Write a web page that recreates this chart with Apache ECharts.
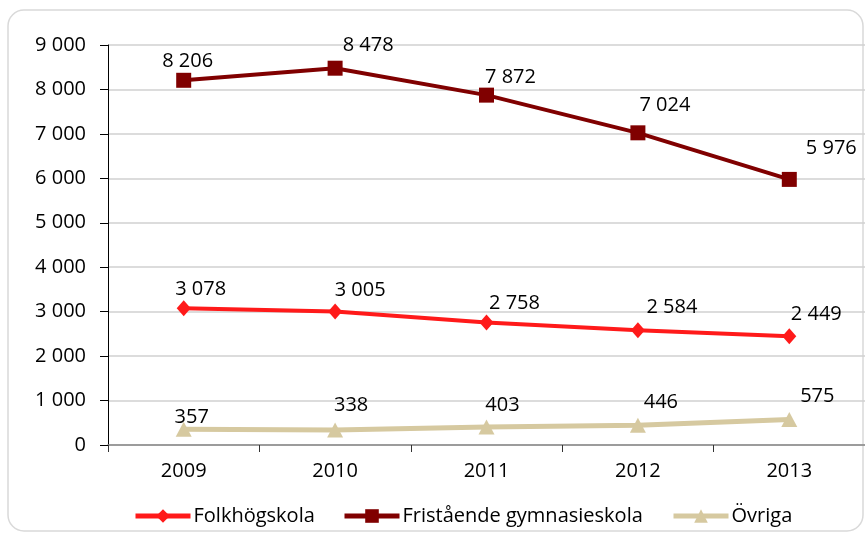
<!DOCTYPE html>
<html>
<head>
<meta charset="utf-8">
<script src="https://cdn.jsdelivr.net/npm/echarts@6/dist/echarts.min.js"></script>
<style>
html,body{margin:0;padding:0;background:#fff;}
#c{width:865px;height:533px;}
</style>
</head>
<body>
<div id="c"></div>
<script>
const categories = ['2009', '2010', '2011', '2012', '2013'];
const folkhogskola = [3078, 3005, 2758, 2584, 2449];
const fristaende = [8206, 8478, 7872, 7024, 5976];
const ovriga = [357, 338, 403, 446, 575];
const seriesNames = ['Folkhögskola', 'Fristående gymnasieskola', 'Övriga'];

// label offsets (pixels) relative to each marker
const folkOffsets = [[17,-19],[25,-21],[28,-19],[34,-23],[27,-22]];
const fristOffsets = [[4,-19],[33,-23],[24,-18],[27,-28],[42,-31]];
const ovrOffsets = [[8,-12],[16,-25],[16,-22],[23,-23],[28,-23]];

const FONT = '"Open Sans", "Noto Sans", sans-serif';
const fmt = v => String(v).replace(/\B(?=(\d{3})+(?!\d))/g, ' ');

function build(values, offsets) {
  return values.map((v, i) => ({
    value: v,
    label: { offset: offsets[i] }
  }));
}

const chart = echarts.init(document.getElementById('c'), null, {renderer: 'canvas'});
const labelBase = {
  show: true,
  position: 'inside',
  color: '#000',
  fontSize: 20,
  fontFamily: FONT,
  formatter: p => fmt(p.value)
};

function legendAt(name, left) {
  return {
    data: [name], left: left, top: 506, padding: 0,
    itemWidth: 55, itemHeight: 17, itemGap: 0,
    lineStyle: {width: 5},
    textStyle: {fontSize: 20, fontFamily: FONT, color: '#000', padding: [0,0,0,-2]}
  };
}

chart.setOption({
  animation: false,
  backgroundColor: '#fff',
  graphic: [{
    type: 'rect',
    shape: {x: 8, y: 10, width: 855, height: 521, r: 16},
    style: {fill: 'none', stroke: '#d9d9d9', lineWidth: 1.5},
    z: -10
  }],
  grid: {left: 108, right: 0, top: 45, bottom: 88, containLabel: false},
  legend: [
    legendAt(seriesNames[0], 133),
    legendAt(seriesNames[1], 342),
    legendAt(seriesNames[2], 671)
  ],
  xAxis: {
    type: 'category',
    data: categories,
    boundaryGap: true,
    axisLine: {show: true, lineStyle: {color: '#868686', width: 1.5}},
    axisTick: {show: true, length: 7, alignWithLabel: false, lineStyle: {color: '#333', width: 1}},
    axisLabel: {color: '#000', fontSize: 20, fontFamily: FONT, margin: 16},
    splitLine: {show: false}
  },
  yAxis: {
    type: 'value',
    min: 0, max: 9000, interval: 1000,
    axisLine: {show: true, lineStyle: {color: '#000', width: 1}},
    axisTick: {show: true, length: 8, lineStyle: {color: '#000', width: 1}},
    axisLabel: {color: '#000', fontSize: 20, fontFamily: FONT, margin: 22, formatter: v => fmt(v)},
    splitLine: {show: true, lineStyle: {color: '#d0d0d0', width: 1.5}}
  },
  series: [
    {
      name: seriesNames[0], type: 'line', data: build(folkhogskola, folkOffsets),
      symbol: 'diamond', symbolSize: [14, 16],
      itemStyle: {color: '#ff1a1a'},
      lineStyle: {color: '#ff1a1a', width: 4},
      label: labelBase, z: 3
    },
    {
      name: seriesNames[1], type: 'line', data: build(fristaende, fristOffsets),
      symbol: 'rect', symbolSize: 15,
      itemStyle: {color: '#800000'},
      lineStyle: {color: '#800000', width: 4},
      label: labelBase, z: 3
    },
    {
      name: seriesNames[2], type: 'line', data: build(ovriga, ovrOffsets),
      symbol: 'triangle', symbolSize: [16, 15],
      itemStyle: {color: '#d6c9a0'},
      lineStyle: {color: '#d6c9a0', width: 5},
      label: labelBase, z: 3
    }
  ]
});
</script>
</body>
</html>
